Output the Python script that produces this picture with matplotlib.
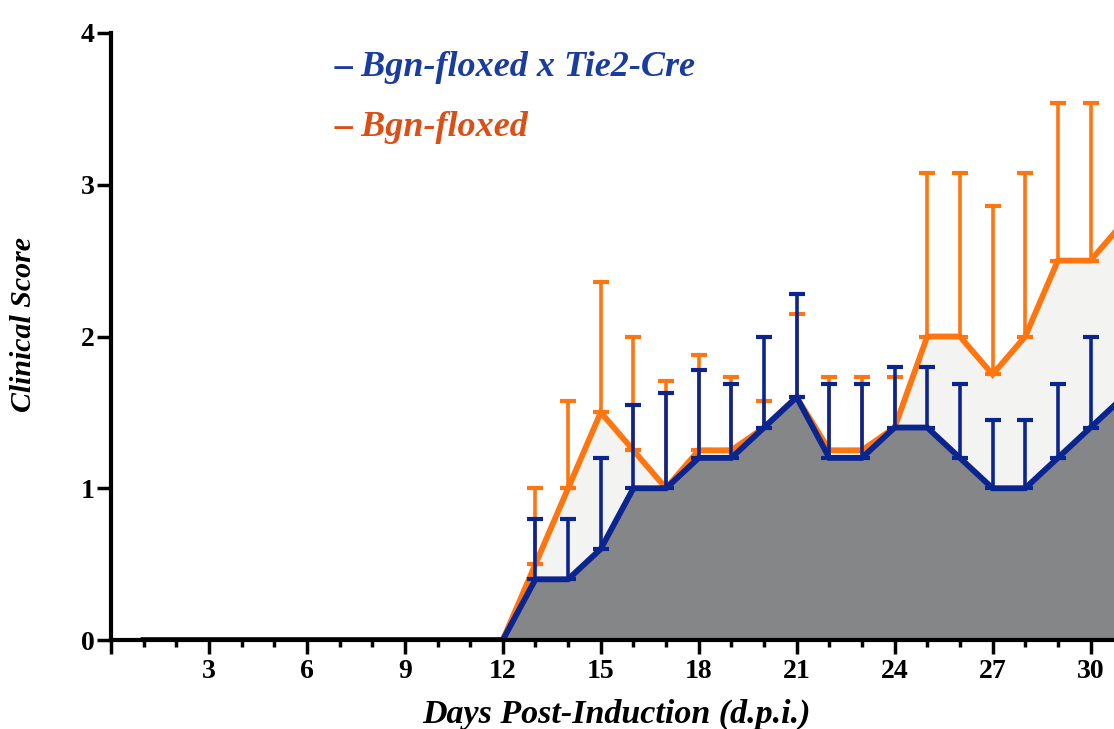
import numpy as np
import matplotlib
matplotlib.use("Agg")
import matplotlib.pyplot as plt
from matplotlib.ticker import MultipleLocator

# Days post-induction
days = list(range(1, 32))

# Bgn-floxed x Tie2-Cre: mean clinical score per day
cre_mean = [0] * 12 + [0.4, 0.4, 0.6, 1.0, 1.0, 1.2, 1.2, 1.4, 1.6, 1.2, 1.2,
                       1.4, 1.4, 1.2, 1.0, 1.0, 1.2, 1.4, 1.6]
# Bgn-floxed: mean clinical score per day
flox_mean = [0] * 12 + [0.5, 1.0, 1.5, 1.25, 1.0, 1.25, 1.25, 1.4, 1.6, 1.25, 1.25,
                        1.4, 2.0, 2.0, 1.75, 2.0, 2.5, 2.5, 2.75]

# Upper error-bar ends (mean + SEM) for days 13-30
err_days = list(range(13, 31))
cre_upper = [0.8, 0.8, 1.2, 1.55, 1.63, 1.78, 1.69, 2.0, 2.28, 1.69, 1.69,
             1.8, 1.8, 1.69, 1.45, 1.45, 1.69, 2.0]
flox_upper = [1.0, 1.575, 2.36, 2.0, 1.71, 1.88, 1.73, 1.575, 2.15, 1.73, 1.73,
              1.73, 3.08, 3.08, 2.86, 3.08, 3.54, 3.54]

x_ticks = [3, 6, 9, 12, 15, 18, 21, 24, 27, 30]
y_ticks = [0, 1, 2, 3, 4]

BLUE = "#0b2590"
ORANGE = "#ff7610"
GRAY = "#858688"
LIGHT = "#f3f3f1"

FONT = "Liberation Serif"

fig = plt.figure(figsize=(11.14, 7.29), dpi=100)
ax = fig.add_axes([111 / 1114, 1 - 640 / 729, 1 - 111 / 1114, (640 - 33) / 729])

d = np.array(days, dtype=float)
cm = np.array(cre_mean)
fm = np.array(flox_mean)

# Shaded areas under each curve
ax.fill_between(d, 0, fm, color=LIGHT, lw=0, zorder=1)

idx = [days.index(k) for k in err_days]
fm_e = fm[idx]
cm_e = cm[idx]
ax.errorbar(err_days, fm_e, yerr=[np.zeros(len(idx)), np.array(flox_upper) - fm_e],
            fmt="none", ecolor=ORANGE, elinewidth=2.6, capsize=5.5, capthick=3.0,
            zorder=2)
ax.plot(d, fm, color=ORANGE, lw=4.2, solid_joinstyle="miter", zorder=3)

ax.fill_between(d, 0, cm, color=GRAY, lw=0, zorder=4)
ax.errorbar(err_days, cm_e, yerr=[np.zeros(len(idx)), np.array(cre_upper) - cm_e],
            fmt="none", ecolor=BLUE, elinewidth=2.6, capsize=5.5, capthick=3.0,
            zorder=5)
ax.plot(d, cm, color=BLUE, lw=4.2, solid_joinstyle="miter", zorder=6)

ax.set_xlim(0, 1003 / 32.65)
ax.set_ylim(0, 4)

for s in ("top", "right"):
    ax.spines[s].set_visible(False)
for s in ("left", "bottom"):
    ax.spines[s].set_linewidth(3)
    ax.spines[s].set_zorder(7)

ax.xaxis.set_minor_locator(MultipleLocator(1))
ax.set_xticks([0] + x_ticks)
ax.set_xticklabels([""] + [str(v) for v in x_ticks])
ax.set_yticks(y_ticks)
ax.set_yticklabels([str(v) for v in y_ticks])

ax.tick_params(axis="both", which="major", direction="out", length=10, width=2.5)
ax.tick_params(axis="x", which="minor", direction="out", length=5, width=2.5)
ax.tick_params(axis="x", which="major", pad=4)
ax.tick_params(axis="y", which="major", pad=2)
for lab in ax.get_xticklabels() + ax.get_yticklabels():
    lab.set_fontfamily(FONT)
    lab.set_fontweight("bold")
    lab.set_fontsize(20)

ax.set_xlabel("Days Post-Induction (d.p.i.)", fontfamily=FONT, fontweight="bold",
              fontstyle="italic", fontsize=24.5)
ax.xaxis.set_label_coords((616 - 111) / 1003, -(714 - 640) / 607)
ax.xaxis.label.set_va("center")
ax.set_ylabel("Clinical Score", fontfamily=FONT, fontweight="bold",
              fontstyle="italic", fontsize=21.5)
ax.yaxis.set_label_coords(-(111 - 24) / 1003, (640 - 324) / 607)
ax.yaxis.label.set_va("center")

fig.text(335 / 1114, 1 - 68 / 729, "– Bgn-floxed x Tie2-Cre", color="#1a3c9e",
         fontfamily=FONT, fontweight="bold", fontstyle="italic", fontsize=26,
         va="center", ha="left")
fig.text(335 / 1114, 1 - 127 / 729, "– Bgn-floxed", color="#d94f16",
         fontfamily=FONT, fontweight="bold", fontstyle="italic", fontsize=26,
         va="center", ha="left")

fig.savefig("out.png", dpi=100)
